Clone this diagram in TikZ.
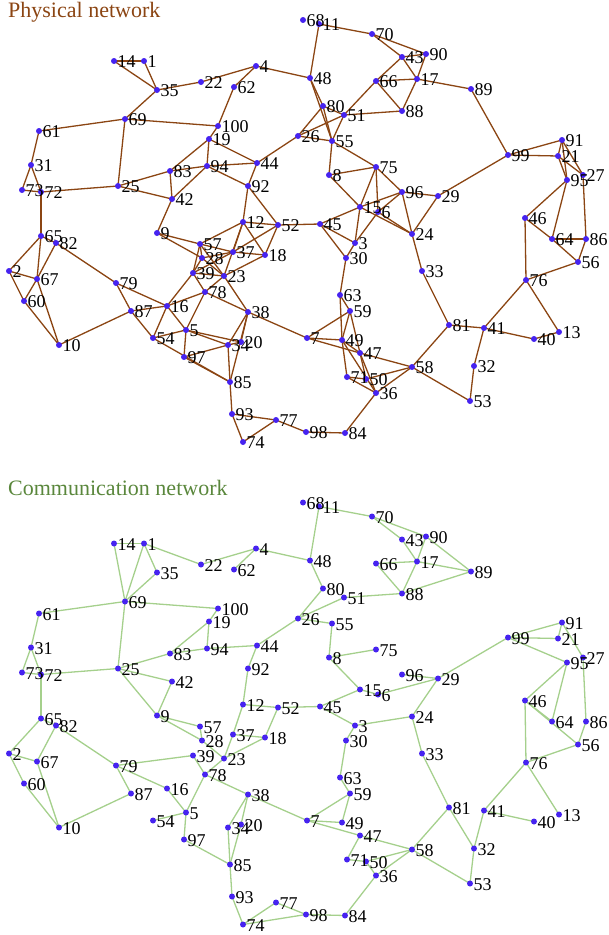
\documentclass[tikz,border=0pt]{standalone}
\usepackage{fontspec}
\setmainfont{Liberation Serif}
\definecolor{physc}{RGB}{139,69,19}
\definecolor{commc}{RGB}{165,208,140}
\definecolor{commt}{RGB}{90,135,60}
\definecolor{dotc}{RGB}{70,35,240}
\tikzset{
  dotnode/.style={circle,fill=dotc,inner sep=0pt,minimum size=6pt},
  lbl/.style={anchor=west,inner sep=0pt,font=\fontsize{18}{18}\selectfont},
  physedge/.style={draw=physc,line width=1.3pt},
  commedge/.style={draw=commc,line width=1.3pt},
  ttl/.style={anchor=base west,inner sep=0pt,font=\fontsize{22}{22}\selectfont}
}
\def\nodelist{1/144/61, 2/9/271, 3/355/243, 4/256/66, 5/186/330, 6/378/212, 7/307/338, 8/329/175, 9/157/233, 10/59/345, 11/319/24, 12/243/222, 13/559/332, 14/114/61, 15/360/207, 16/167/306, 17/417/79, 18/265/255, 19/209/139, 20/241/342, 21/558/156, 22/201/82, 23/224/276, 24/412/234, 25/118/186, 26/298/136, 27/583/175, 28/202/258, 29/438/196, 30/346/258, 31/31/165, 32/474/366, 33/422/271, 34/228/345, 35/157/90, 36/376/393, 37/233/252, 38/248/312, 39/193/273, 40/534/339, 41/484/328, 42/172/199, 43/402/57, 44/257/163, 45/320/224, 46/525/218, 47/360/353, 48/310/78, 49/342/340, 50/366/379, 51/344/115, 52/278/225, 53/470/401, 54/153/338, 55/332/141, 56/578/262, 57/200/244, 58/412/367, 59/350/311, 60/24/301, 61/39/131, 62/234/87, 63/340/295, 64/552/239, 65/41/236, 66/376/81, 67/37/279, 68/303/20, 69/125/119, 70/372/34, 71/347/377, 72/41/192, 73/22/190, 74/243/442, 75/376/167, 76/526/280, 77/276/420, 78/205/292, 79/116/283, 80/323/106, 81/449/325, 82/56/243, 83/170/171, 84/345/433, 85/230/382, 86/586/239, 87/131/311, 88/402/111, 89/471/89, 90/426/54, 91/562/140, 92/248/186, 93/232/414, 94/207/166, 95/567/180, 96/402/192, 97/184/357, 98/306/432, 99/508/155, 100/218/126}
\def\physedges{14/1, 14/35, 1/35, 35/22, 35/69, 22/4, 4/62, 4/48, 62/100, 69/61, 69/100, 69/25, 61/31, 31/73, 31/72, 73/72, 72/25, 72/65, 25/83, 25/42, 83/42, 83/19, 83/94, 42/94, 42/9, 19/100, 19/94, 19/44, 94/44, 94/92, 44/92, 44/26, 92/12, 92/52, 12/52, 11/70, 11/48, 70/43, 70/90, 43/90, 43/17, 43/66, 90/17, 66/17, 66/88, 17/88, 17/89, 66/51, 48/80, 48/55, 80/26, 80/51, 80/55, 26/51, 26/55, 51/88, 51/55, 55/8, 55/75, 8/75, 8/15, 75/15, 75/6, 75/96, 96/15, 96/6, 96/29, 96/24, 29/24, 29/99, 89/99, 99/91, 99/21, 91/21, 91/95, 91/27, 21/95, 21/27, 95/46, 95/64, 46/64, 46/76, 27/86, 64/86, 64/56, 86/56, 76/56, 76/41, 76/13, 41/81, 41/40, 41/32, 40/13, 81/33, 33/24, 81/58, 32/53, 58/53, 15/45, 15/3, 15/24, 6/3, 6/24, 45/52, 45/3, 45/30, 3/30, 30/63, 63/49, 63/59, 59/7, 59/49, 59/47, 7/49, 7/38, 7/47, 49/47, 49/71, 49/36, 47/36, 47/50, 47/58, 71/50, 71/36, 50/58, 36/58, 36/84, 84/98, 98/77, 77/93, 77/74, 93/74, 93/85, 85/34, 85/38, 85/97, 34/38, 20/38, 34/20, 34/5, 20/5, 97/34, 38/78, 38/23, 12/57, 12/37, 12/18, 12/23, 52/37, 52/18, 37/18, 37/57, 37/28, 37/39, 18/23, 23/57, 23/28, 23/39, 23/78, 57/9, 57/39, 57/28, 28/9, 28/39, 39/78, 39/16, 78/16, 78/5, 65/82, 65/2, 65/67, 82/67, 82/79, 2/67, 2/60, 67/60, 67/10, 60/10, 10/87, 79/87, 79/16, 87/16, 87/54, 16/54, 16/5, 54/5, 54/85, 5/97}
\def\commedges{14/1, 14/69, 1/69, 1/35, 1/22, 35/69, 22/4, 4/62, 4/48, 69/61, 69/100, 69/25, 61/31, 31/73, 31/72, 73/72, 72/25, 72/65, 100/19, 19/83, 19/94, 83/94, 83/25, 25/42, 25/9, 42/9, 94/44, 44/26, 44/92, 92/12, 12/52, 52/45, 11/70, 11/48, 70/43, 70/90, 43/17, 90/17, 90/89, 66/17, 66/88, 17/88, 17/89, 88/89, 88/51, 48/80, 80/26, 26/51, 26/55, 55/8, 8/75, 8/15, 15/45, 15/6, 6/29, 96/29, 29/99, 29/24, 99/91, 99/21, 99/95, 91/21, 91/27, 95/46, 95/64, 27/86, 65/82, 65/2, 82/67, 2/67, 2/60, 60/10, 67/10, 82/79, 79/87, 79/16, 79/39, 87/10, 16/5, 5/54, 5/97, 5/78, 97/85, 9/57, 9/28, 57/28, 28/23, 39/78, 78/23, 78/38, 23/37, 37/12, 23/18, 37/18, 52/18, 38/34, 38/20, 38/7, 34/85, 20/85, 85/93, 93/74, 74/77, 74/98, 77/98, 45/3, 3/24, 3/30, 30/63, 63/59, 59/7, 59/49, 7/49, 7/47, 47/58, 47/71, 71/50, 50/58, 50/36, 36/58, 36/84, 98/84, 24/33, 33/81, 81/58, 81/32, 58/53, 32/53, 32/41, 41/76, 41/40, 76/13, 76/56, 76/46, 46/64, 46/56, 86/56}
\begin{document}
\begin{tikzpicture}[x=1pt,y=-1pt]
\useasboundingbox (0,0) rectangle (609,935);
\foreach \n/\x/\y in \nodelist {
  \coordinate (p\n) at (\x,\y);
  \coordinate (c\n) at (\x,{\y+482.5});
}
\node[ttl,text=physc] (tphys) at (8,17.5) {Physical network};
\node[ttl,text=commt] (tcomm) at (8,495) {Communication network};
\foreach \a/\b in \physedges { \draw[physedge] (p\a) -- (p\b); }
\foreach \a/\b in \commedges { \draw[commedge] (c\a) -- (c\b); }
\foreach \n/\x/\y in \nodelist {
  \node[dotnode] (pd\n) at (p\n) {};
  \node[dotnode] (cd\n) at (c\n) {};
  \node[lbl] (pl\n) at ([xshift=3.5pt,yshift=-0.8pt]p\n) {\n};
  \node[lbl] (cl\n) at ([xshift=3.5pt,yshift=-0.8pt]c\n) {\n};
}
\end{tikzpicture}
\end{document}
